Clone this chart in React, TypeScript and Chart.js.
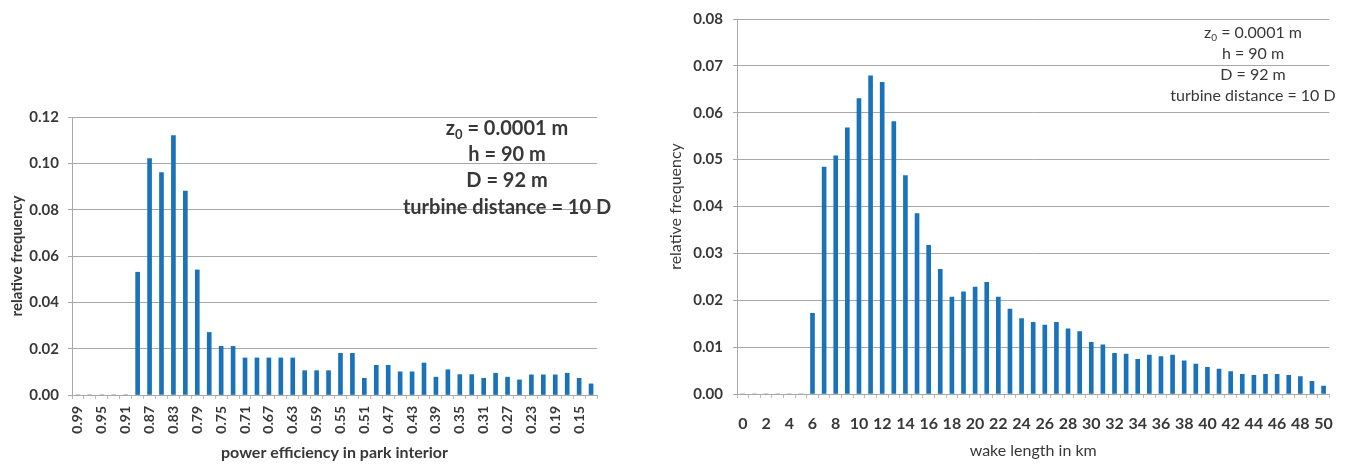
import React, { useEffect, useRef } from 'react';
import { Chart, registerables } from 'chart.js';

Chart.register(...registerables);

// ---------- data ----------
const efficiencyLabels = [
  '0.99', '0.97', '0.95', '0.93', '0.91', '0.89', '0.87', '0.85', '0.83', '0.81',
  '0.79', '0.77', '0.75', '0.73', '0.71', '0.69', '0.67', '0.65', '0.63', '0.61',
  '0.59', '0.57', '0.55', '0.53', '0.51', '0.49', '0.47', '0.45', '0.43', '0.41',
  '0.39', '0.37', '0.35', '0.33', '0.31', '0.29', '0.27', '0.25', '0.23', '0.21',
  '0.19', '0.17', '0.15', '0.13',
];
const efficiencyFreq = [
  0, 0, 0, 0, 0, 0.053, 0.102, 0.096, 0.112, 0.088,
  0.054, 0.027, 0.021, 0.021, 0.016, 0.016, 0.016, 0.016, 0.016, 0.0105,
  0.0105, 0.0105, 0.018, 0.018, 0.0072, 0.0128, 0.0128, 0.010, 0.010, 0.0138,
  0.0077, 0.0109, 0.0088, 0.0088, 0.0072, 0.0094, 0.0077, 0.0065, 0.0087, 0.0087,
  0.0087, 0.0094, 0.0072, 0.0048,
];

const wakeLabels = [
  '0', '1', '2', '3', '4', '5', '6', '7', '8', '9', '10',
  '11', '12', '13', '14', '15', '16', '17', '18', '19', '20',
  '21', '22', '23', '24', '25', '26', '27', '28', '29', '30',
  '31', '32', '33', '34', '35', '36', '37', '38', '39', '40',
  '41', '42', '43', '44', '45', '46', '47', '48', '49', '50',
];
const wakeFreq = [
  0, 0, 0, 0, 0, 0, 0.0172, 0.0484, 0.0508, 0.0568, 0.063,
  0.0679, 0.0665, 0.0581, 0.0466, 0.0385, 0.0317, 0.0266, 0.0207, 0.0218, 0.0228,
  0.0238, 0.0207, 0.0181, 0.0161, 0.0153, 0.0147, 0.0153, 0.0139, 0.0133, 0.011,
  0.0105, 0.0087, 0.0085, 0.0074, 0.0083, 0.008, 0.0083, 0.0071, 0.0064, 0.0057,
  0.0053, 0.0048, 0.0042, 0.004, 0.0042, 0.0042, 0.004, 0.0037, 0.0027, 0.0017,
];

const paramLines = ['= 0.0001 m', 'h = 90 m', 'D = 92 m', 'turbine distance = 10 D'];

const BLUE = '#1a73b8';
const TEXT = '#383838';
const GRID = '#a8a8a8';
const FONT = 'Lato, "Open Sans", sans-serif';

function paramsPlugin(cx: number, ys: number[], size: number, weight: string) {
  return {
    id: 'params',
    afterDraw(chart: any) {
      const ctx = chart.ctx;
      ctx.save();
      ctx.fillStyle = TEXT;
      ctx.textBaseline = 'middle';
      const main = `${weight} ${size}px ${FONT}`;
      const sub = `${weight} ${Math.round(size * 0.65)}px ${FONT}`;
      ctx.font = main;
      const zW = ctx.measureText('z').width;
      const restW = ctx.measureText(' ' + paramLines[0]).width;
      ctx.font = sub;
      const sW = ctx.measureText('0').width;
      const total = zW + sW + restW;
      let x = cx - total / 2;
      ctx.textAlign = 'left';
      ctx.font = main;
      ctx.fillText('z', x, ys[0]);
      x += zW;
      ctx.font = sub;
      ctx.fillText('0', x, ys[0] + size * 0.3);
      x += sW;
      ctx.font = main;
      ctx.fillText(' ' + paramLines[0], x, ys[0]);
      ctx.textAlign = 'center';
      for (let i = 1; i < paramLines.length; i++) {
        ctx.fillText(paramLines[i], cx, ys[i]);
      }
      ctx.restore();
    },
  };
}

function makeConfig(opts: any): any {
  return {
    type: 'bar',
    data: {
      labels: opts.labels,
      datasets: [
        {
          data: opts.data,
          backgroundColor: BLUE,
          borderWidth: 0,
          barThickness: 4,
        },
      ],
    },
    options: {
      responsive: false,
      animation: false,
      events: [],
      layout: { padding: opts.padding },
      plugins: { legend: { display: false }, tooltip: { enabled: false } },
      scales: {
        x: {
          offset: true,
          grid: {
            display: true,
            drawOnChartArea: false,
            offset: true,
            tickLength: 4,
            color: '#c8b8a8',
          },
          border: { display: true, color: GRID, width: 1 },
          ticks: {
            autoSkip: false,
            maxRotation: opts.xRotate ? 90 : 0,
            minRotation: opts.xRotate ? 90 : 0,
            padding: opts.xTickPad,
            color: TEXT,
            font: { family: FONT, size: opts.xTickSize, weight: 'bold' },
            callback: (_v: any, i: number) => (i % 2 === 0 ? opts.labels[i] : ''),
          },
          title: {
            display: true,
            text: opts.xTitle,
            color: TEXT,
            font: { family: FONT, size: 16, weight: opts.xTitleWeight },
            padding: { top: 0, bottom: opts.xTitlePad },
          },
          afterFit: (s: any) => {
            s.height = opts.xHeight;
          },
        },
        y: {
          min: 0,
          max: opts.yMax,
          grid: { color: GRID, lineWidth: 1, tickLength: 4 },
          border: { display: true, color: GRID, width: 1 },
          ticks: {
            stepSize: opts.yStep,
            padding: opts.yTickPad,
            color: TEXT,
            font: { family: FONT, size: 15, weight: 'bold' },
            callback: (v: any) => Number(v).toFixed(2),
          },
          title: {
            display: true,
            text: 'relative frequency',
            color: TEXT,
            font: { family: FONT, size: opts.yTitleSize, weight: opts.yTitleWeight },
            padding: { top: opts.yTitlePad, bottom: 0 },
          },
          afterFit: (s: any) => {
            s.width = opts.yWidth;
          },
        },
      },
    },
    plugins: [opts.plugin],
  };
}

export default function App() {
  const leftRef = useRef<HTMLCanvasElement>(null);
  const rightRef = useRef<HTMLCanvasElement>(null);

  useEffect(() => {
    document.body.style.margin = '0';
    const left = new Chart(
      leftRef.current as HTMLCanvasElement,
      makeConfig({
        labels: efficiencyLabels,
        data: efficiencyFreq,
        yMax: 0.12,
        yStep: 0.02,
        yWidth: 72,
        yTitlePad: 8,
        yTitleSize: 15,
        yTitleWeight: 'bold',
        yTickPad: 9,
        xHeight: 71,
        xRotate: true,
        xTickSize: 14,
        xTickPad: 7,
        xTitle: 'power efficiency in park interior',
        xTitleWeight: 'bold',
        xTitlePad: 4,
        padding: { top: 117, right: 12, bottom: 0, left: 0 },
        plugin: paramsPlugin(507, [129, 155, 181, 208], 20, 'bold'),
      })
    );
    const right = new Chart(
      rightRef.current as HTMLCanvasElement,
      makeConfig({
        labels: wakeLabels,
        data: wakeFreq,
        yMax: 0.08,
        yStep: 0.01,
        yWidth: 77,
        yTitlePad: 6,
        yTitleSize: 16,
        yTitleWeight: 'normal',
        yTickPad: 10,
        xHeight: 72,
        xRotate: false,
        xTickSize: 16,
        xTickPad: 16,
        xTitle: 'wake length in km',
        xTitleWeight: 'normal',
        xTitlePad: 6,
        padding: { top: 15, right: 14, bottom: 0, left: 0 },
        plugin: paramsPlugin(593, [33, 54, 75, 96], 16, 'normal'),
      })
    );
    return () => {
      left.destroy();
      right.destroy();
    };
  }, []);

  return (
    <div style={{ position: 'absolute', left: 0, top: 0, width: 1349, height: 466, background: '#fff' }}>
      <canvas ref={leftRef} width={615} height={466} style={{ position: 'absolute', left: 0, top: 0 }} />
      <canvas ref={rightRef} width={689} height={466} style={{ position: 'absolute', left: 660, top: 0 }} />
    </div>
  );
}
